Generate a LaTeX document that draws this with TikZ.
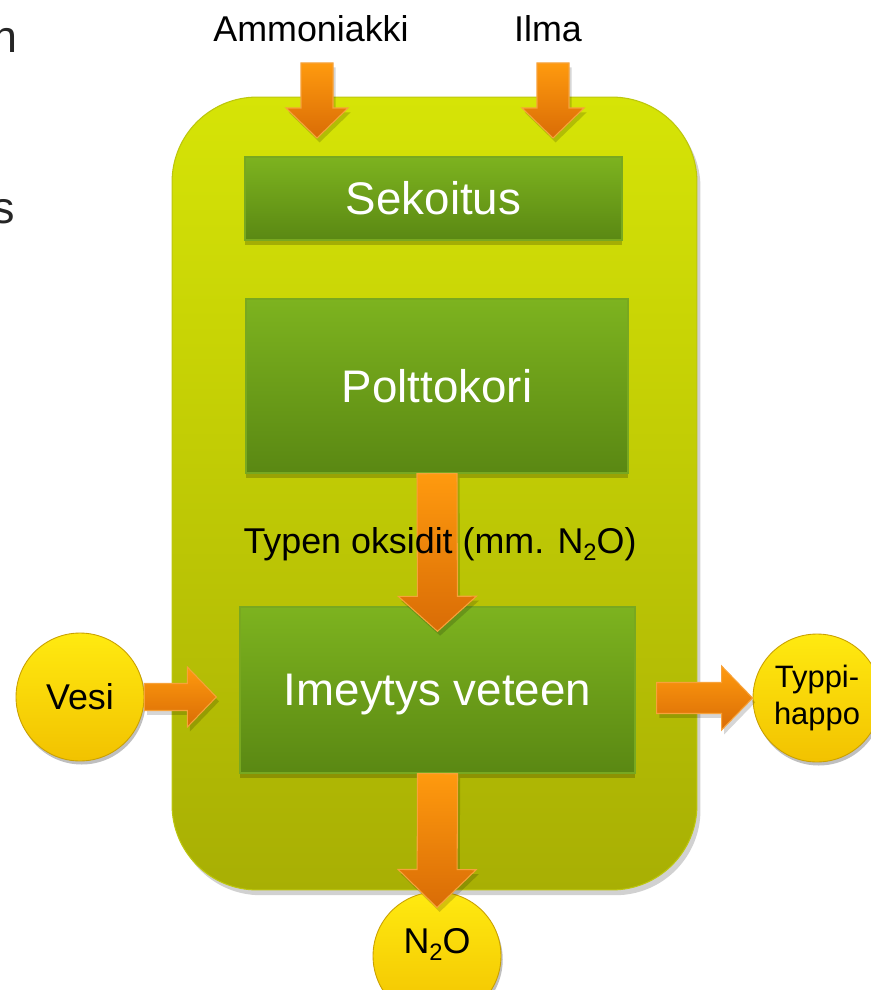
\documentclass[tikz,border=0pt]{standalone}
\usepackage{fontspec}
\setmainfont{Liberation Sans}
\usepackage{tikz}
\usetikzlibrary{calc,shadows}

\definecolor{panelTop}{HTML}{D6E406}
\definecolor{panelBot}{HTML}{A8AF04}
\definecolor{panelEdge}{HTML}{BCC60E}
\definecolor{boxTop}{HTML}{7DB31F}
\definecolor{boxBot}{HTML}{5A8813}
\definecolor{boxEdge}{HTML}{78A820}
\definecolor{orangeTop}{HTML}{FF9A0E}
\definecolor{orangeBot}{HTML}{D96C06}
\definecolor{orangeEdge}{HTML}{F7A23A}
\definecolor{ballTop}{HTML}{FFEA10}
\definecolor{ballBot}{HTML}{F2C200}
\definecolor{ballEdge}{HTML}{C9A000}

\tikzset{
  panel/.style={rounded corners=1.7cm, top color=panelTop, bottom color=panelBot, draw=panelEdge, line width=0.6pt,
    drop shadow={shadow xshift=2pt, shadow yshift=-3pt, opacity=.3, fill=black!60}},
  stage/.style={top color=boxTop, bottom color=boxBot, draw=boxEdge, line width=0.8pt, text=white,
    font=\fontsize{26}{30}\selectfont, drop shadow={shadow xshift=0pt, shadow yshift=-3pt, opacity=.2, fill=black}},
  ball/.style={circle, minimum size=2.56cm, inner sep=0pt, top color=ballTop, bottom color=ballBot, draw=ballEdge,
    line width=0.5pt, font=\fontsize{20.4}{24}\selectfont,
    drop shadow={shadow xshift=1pt, shadow yshift=-2pt, opacity=.25, fill=black}},
  tag/.style={font=\fontsize{20.4}{24}\selectfont, inner sep=0pt},
  frag/.style={font=\fontsize{25.5}{30}\selectfont, inner sep=0pt, text=black!85},
  flow/.style={top color=orangeTop, bottom color=orangeBot, draw=orangeEdge, line width=0.6pt, line join=miter},
  flowshadow/.style={fill=black, opacity=.16, transform canvas={shift={(1.5pt,-2.5pt)}}}
}

% lowered subscript two, as in N2O
\newcommand{\subtwo}{\raisebox{-0.42ex}{\fontsize{13.5}{14}\selectfont 2}}

% block arrow: from, to, shaft half width, head half width, head length
\newcommand{\flowarrow}[5]{%
  \coordinate (fa-h) at ($(#2)!#5!(#1)$);
  \path[flowshadow] ($(#1)!#3!90:(#2)$) -- ($(fa-h)!#3!90:(#2)$) -- ($(fa-h)!#4!90:(#2)$) -- (#2)
    -- ($(fa-h)!#4!-90:(#2)$) -- ($(fa-h)!#3!-90:(#2)$) -- ($(#1)!#3!-90:(#2)$) -- cycle;
  \path[flow] ($(#1)!#3!90:(#2)$) -- ($(fa-h)!#3!90:(#2)$) -- ($(fa-h)!#4!90:(#2)$) -- (#2)
    -- ($(fa-h)!#4!-90:(#2)$) -- ($(fa-h)!#3!-90:(#2)$) -- ($(#1)!#3!-90:(#2)$) -- cycle;
}

\begin{document}
\begin{tikzpicture}[x=0.02cm, y=-0.02cm]
	\useasboundingbox (0,0) rectangle (871,990);
	% cut off slide text at the left edge
	\node[frag, anchor=base east] (fragn) at (18,53) {n};
	\node[frag, anchor=base east] (frags) at (15,223) {s};
	% plant and its stages
	\node[panel, minimum width=10.5cm, minimum height=15.86cm] (plant) at (434.5,493.5) {};
	\node[stage, minimum width=7.54cm, minimum height=1.66cm] (sek) at (433.5,198.5) {Sekoitus};
	\node[stage, minimum width=7.64cm, minimum height=3.48cm] (polt) at (437,386) {Polttokori};
	\node[stage, minimum width=7.9cm, minimum height=3.32cm, text depth=0pt] (imey) at (437.5,690) {Imeytys veteen};
	% inputs and outputs
	\node[ball] (vesi) at (80,697) {Vesi};
	\node[ball, align=center, font=\fontsize{17.6}{21}\selectfont] (typpi) at (817,698) {Typpi-\\happo};
	\node[ball, text height=0.52cm, text depth=0.64cm] (n2o) at (437,956) {N\subtwo O};
	\node[tag, anchor=base] (amm) at (311,42) {Ammoniakki};
	\node[tag, anchor=base] (ilma) at (548,42) {Ilma};
	% arrows
	\coordinate (amm-in) at (317,63);
	\coordinate (amm-out) at (317,138);
	\coordinate (ilma-in) at (553,63);
	\coordinate (ilma-out) at (553,138);
	\coordinate (oxid-tip) at ($(imey.north)+(0,25)$);
	\coordinate (n2o-tip) at ($(n2o.north)+(0,16)$);
	\coordinate (vesi-tip) at ($(imey.west |- vesi.east)+(-23,0)$);
	\coordinate (acid-in) at ($(imey.east |- typpi.west)+(21,0)$);
	\flowarrow{amm-in}{amm-out}{0.32cm}{0.62cm}{0.6cm}
	\flowarrow{ilma-in}{ilma-out}{0.32cm}{0.62cm}{0.6cm}
	\flowarrow{polt.south}{oxid-tip}{0.4cm}{0.78cm}{0.7cm}
	\flowarrow{imey.south}{n2o-tip}{0.4cm}{0.78cm}{0.76cm}
	\flowarrow{vesi.east}{vesi-tip}{0.27cm}{0.6cm}{0.58cm}
	\flowarrow{acid-in}{typpi.west}{0.31cm}{0.64cm}{0.62cm}
	\node[tag, anchor=base] (oxid) at (440,553) {Typen oksidit (mm. N\subtwo O)};
\end{tikzpicture}
\end{document}
